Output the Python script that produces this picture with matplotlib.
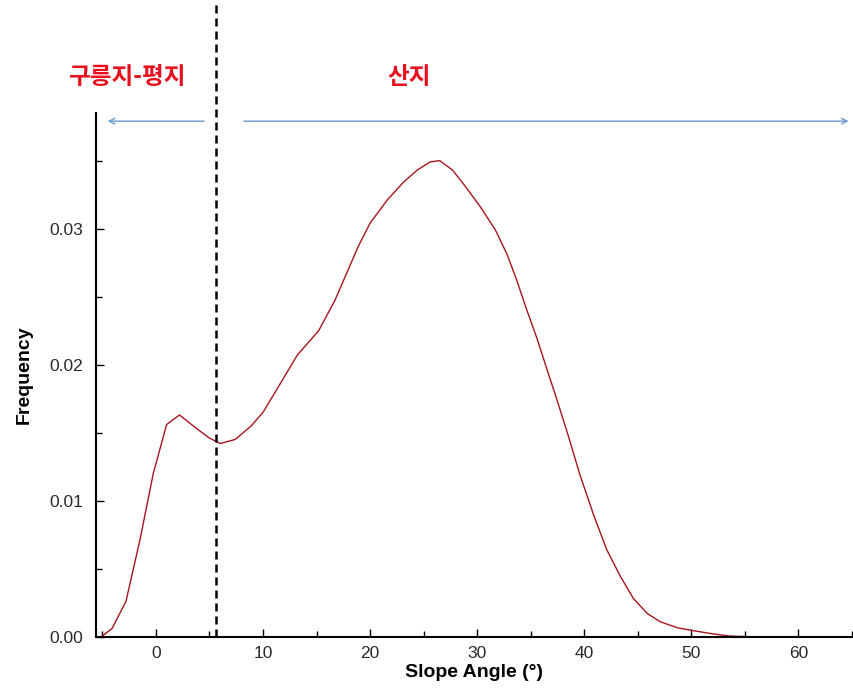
import matplotlib
matplotlib.use('Agg')
import matplotlib.pyplot as plt
from matplotlib.ticker import MultipleLocator, FormatStrFormatter

# Dados (ângulo de declive x frequência)
slope_angle = [-5.1, -4.1, -2.8, -1.5, -0.25, 1.0, 2.2, 3.8, 5.0, 6.0, 7.4, 8.9, 10.0,
               11.0, 13.2, 15.2, 16.7, 17.8, 18.9, 20.0, 21.6, 23.1, 24.4, 25.6, 26.5,
               27.7, 28.9, 30.3, 31.7, 32.8, 33.7, 34.6, 35.6, 36.5, 37.5, 38.5, 39.6,
               40.9, 42.1, 43.4, 44.6, 45.9, 47.1, 48.7, 50.2, 52.1, 53.6, 55.5, 57.2]
frequency = [0.0, 0.0006, 0.0026, 0.0071, 0.0120, 0.0156, 0.0163, 0.0153, 0.0146, 0.0142,
             0.0145, 0.0155, 0.0165, 0.0178, 0.0207, 0.0225, 0.0247, 0.0267, 0.0287,
             0.0304, 0.0321, 0.0334, 0.0343, 0.0349, 0.0350, 0.0343, 0.0331, 0.0316,
             0.0299, 0.0281, 0.0262, 0.0241, 0.0219, 0.0197, 0.0173, 0.0148, 0.0119,
             0.0089, 0.0064, 0.0044, 0.0028, 0.0017, 0.0011, 0.00066, 0.00044, 0.0002,
             0.00005, 0.0, 0.0]

# Limite entre as regiões e rótulos
boundary = 5.6
region_labels = ['구릉지-평지', '산지']
x_ticks = [0, 10, 20, 30, 40, 50, 60]
y_ticks = [0.00, 0.01, 0.02, 0.03]

plt.rcParams['font.family'] = ['Liberation Sans', 'DejaVu Sans']

fig = plt.figure(figsize=(8.54, 6.97), dpi=100)
ax = fig.add_axes([0.1124, 0.0865, 0.8864, 0.7514])

ax.plot(slope_angle, frequency, color='#a8141c', lw=1.0)

ax.set_xlim(-5.6, 65.1)
ax.set_ylim(0, 0.0385)
ax.set_xticks(x_ticks)
ax.set_yticks(y_ticks)
ax.xaxis.set_minor_locator(MultipleLocator(5))
ax.yaxis.set_minor_locator(MultipleLocator(0.005))
ax.yaxis.set_major_formatter(FormatStrFormatter('%.2f'))

for s in ['top', 'right']:
    ax.spines[s].set_visible(False)
for s in ['left', 'bottom']:
    ax.spines[s].set_linewidth(1.5)

ax.tick_params(which='major', direction='in', length=6, width=1, labelsize=12.5,
               labelcolor='#2a2a2a')
ax.tick_params(which='minor', direction='in', length=4.5, width=1)
ax.tick_params(axis='y', which='major', pad=9)
ax.tick_params(axis='x', which='major', pad=7)

ax.set_xlabel('Slope Angle (°)', fontsize=14, fontweight='bold', labelpad=2)
ax.set_ylabel('Frequency', fontsize=14, fontweight='bold', labelpad=12)

# Linha tracejada que separa as regiões (vai até o topo da figura)
ax.axvline(boundary, ymin=0, ymax=1.2157, color='black', lw=1.8,
           dashes=(3.2, 2.0), clip_on=False)

# Setas indicando as regiões
arrow_y = 0.0379
ax.annotate('', xy=(-4.77, arrow_y), xytext=(4.77, arrow_y),
            arrowprops=dict(arrowstyle='->', color='#6a9acb', lw=1.0))
ax.annotate('', xy=(64.95, arrow_y), xytext=(7.94, arrow_y),
            arrowprops=dict(arrowstyle='->', color='#6a9acb', lw=1.0))

kfont = ['Noto Sans CJK KR', 'DejaVu Sans']
fig.text(127 / 854, 1 - 77 / 697, region_labels[0], family=kfont, fontsize=17,
         fontweight='bold', color='#e8101e', ha='center', va='center')
fig.text(409 / 854, 1 - 77 / 697, region_labels[1], family=kfont, fontsize=17,
         fontweight='bold', color='#e8101e', ha='center', va='center')

fig.savefig('out.png', dpi=100)
